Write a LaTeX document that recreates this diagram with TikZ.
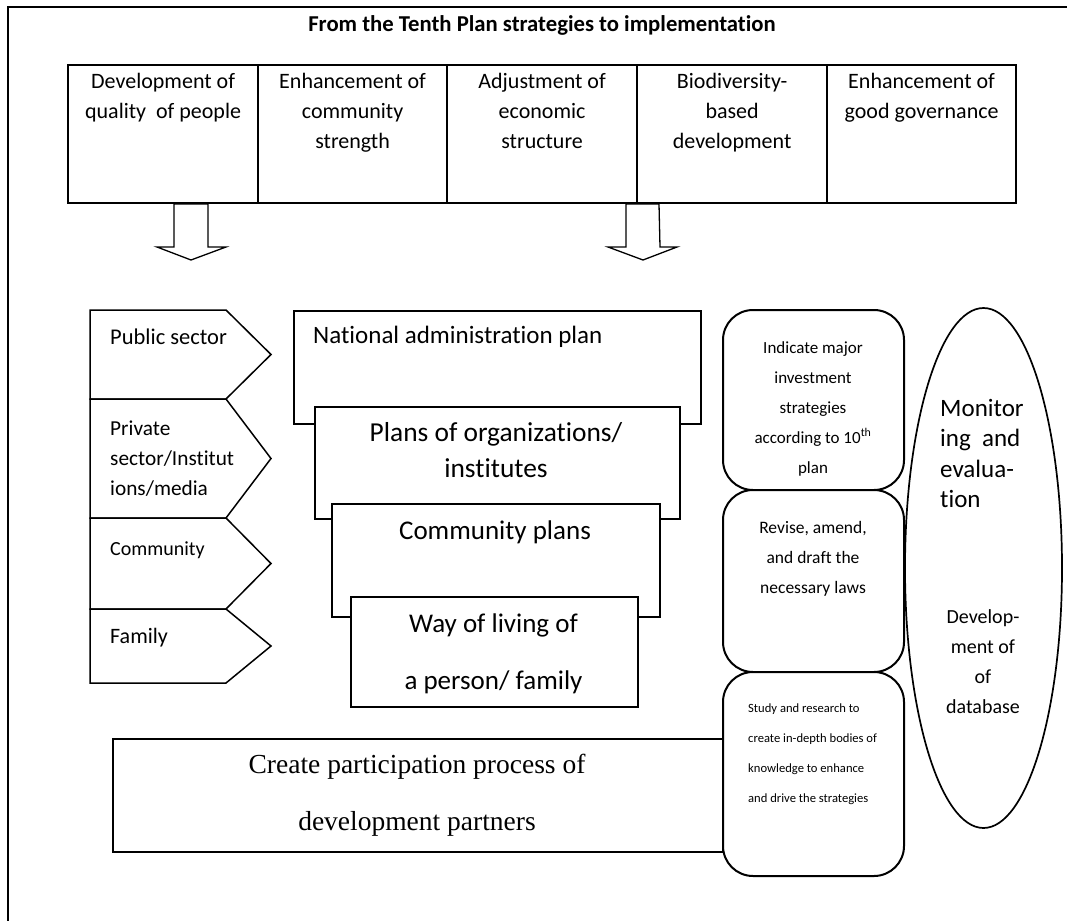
\documentclass[tikz,border=0pt]{standalone}
\usepackage{fontspec}
\setmainfont{Carlito}[Ligatures=NoCommon]
\newfontfamily\tnr{Liberation Serif}
\usetikzlibrary{shapes.geometric,calc}
\newcommand{\fsz}[2]{\fontsize{#1}{#2}\selectfont}
\begin{document}
\begin{tikzpicture}[x=1pt,y=-1pt,
 frame/.style={draw, line width=2pt},
 cell/.style={draw, line width=2.2pt, anchor=north west, minimum height=138pt, inner sep=0pt},
 celltext/.style={anchor=north, inner sep=0pt, align=center, font=\fsz{22}{30}},
 penta/.style={draw, line width=1.5pt, line join=miter},
 pentatext/.style={anchor=north west, inner sep=0pt, align=left},
 planbox/.style={draw, line width=1.5pt, fill=white, anchor=north west, inner sep=0pt},
 blockarrow/.style={draw, line width=1.3pt, fill=white, line join=miter},
 roundbox/.style={draw, line width=2pt, fill=white, rounded corners=30pt, anchor=north west, minimum width=181pt, inner sep=0pt},
 oval/.style={draw, ellipse, line width=1.7pt, minimum width=157pt, minimum height=520pt, inner sep=0pt},
]
\path[use as bounding box] (0,0) rectangle (1067,920);
\clip (0,0) rectangle (1067,920);
\fill[white] (0,0) rectangle (1067,920);
\draw[frame] (7.5,7) rectangle (1090,940);

% title
\node[anchor=base, inner sep=0pt, font=\bfseries\fsz{22.7}{26}] (title) at (542,32) {From the Tenth Plan strategies to implementation};

% strategy table
\node[cell, minimum width=190pt] (c1) at (67,64) {};
\node[cell, minimum width=189pt] (c2) at (257,64) {};
\node[cell, minimum width=190pt] (c3) at (446,64) {};
\node[cell, minimum width=190pt] (c4) at (636,64) {};
\node[cell, minimum width=189pt] (c5) at (826,64) {};
\node[celltext] (t1) at ($(c1.north)+(0,3)$) {\strut Development of\\quality\ \ of people};
\node[celltext] (t2) at ($(c2.north)+(0,3)$) {\strut Enhancement of\\community\\strength};
\node[celltext] (t3) at ($(c3.north)+(0,3)$) {\strut Adjustment of\\economic\\structure};
\node[celltext] (t4) at ($(c4.north)+(0,3)$) {\strut Biodiversity-\\based\\development};
\node[celltext] (t5) at ($(c5.north)+(0,3)$) {\strut Enhancement of\\good governance};

% block arrows
\coordinate (a1) at (191,204);
\coordinate (a2) at (643,204);
\draw[blockarrow] ($(a1)+(-17,0)$) -- ++(0,43) -- ++(-17,0) -- ($(a1)+(0,56)$) -- ($(a1)+(35,43)$) -- ++(-18,0) -- ($(a1)+(17,0)$) -- cycle;
\draw[blockarrow] ($(a2)+(-17,0)$) -- ++(0,43) -- ++(-18,0) -- ($(a2)+(0,56)$) -- ($(a2)+(34,43)$) -- ++(-17,0) -- ($(a2)+(16,0)$) -- cycle;

% sector pentagons
\draw[penta] (90,310) -- (226,310) -- (271,354.5) -- (226,399) -- (90,399) -- cycle;
\draw[penta] (90,399) -- (226,399) -- (271,458.5) -- (226,518) -- (90,518) -- cycle;
\draw[penta] (90,518) -- (226,518) -- (271,563.5) -- (226,609) -- (90,609) -- cycle;
\draw[penta] (90,609) -- (226,609) -- (271,646) -- (226,683) -- (90,683) -- cycle;
\node[pentatext, font=\fsz{22.5}{30}] (s1) at (110,323) {\strut Public sector};
\node[pentatext, font=\fsz{21.3}{30}] (s2) at (110,414) {\strut Private\\sector/Institut\\ions/media};
\node[pentatext, font=\fsz{20}{30}] (s3) at (110,534) {\strut Community};
\node[pentatext, font=\fsz{22}{30}] (s4) at (110,622) {\strut Family};

% nested plans
\node[planbox, minimum width=407pt, minimum height=113pt] (p1) at (293,310) {};
\node[planbox, minimum width=365pt, minimum height=112pt] (p2) at (314,406) {};
\node[planbox, minimum width=328pt, minimum height=113pt] (p3) at (331,503) {};
\node[planbox, minimum width=287pt, minimum height=110pt] (p4) at (350,596) {};
\node[anchor=base west, inner sep=0pt, font=\fsz{25}{30}] (pt1) at (313,343) {National administration plan};
\node[anchor=north, inner sep=0pt, align=center, font=\fsz{27.4}{36}] (pt2) at (496,415.8) {\strut Plans of organizations/\\institutes};
\node[anchor=base, inner sep=0pt, font=\fsz{27}{36}] (pt3) at (495,539) {Community plans};
\node[anchor=north, inner sep=0pt, align=center, font=\fsz{27}{57}] (pt4) at (493.5,592.1) {\strut Way of living of\\a person/ family};

% participation box
\node[planbox, minimum width=610pt, minimum height=113pt] (cp) at (112,738) {};
\node[anchor=north, inner sep=0pt, align=center, font=\tnr\fsz{27.5}{57}] (cpt) at (417,733.1) {\strut Create participation process of\\development partners};

% rounded boxes
\node[roundbox, minimum height=180pt] (r1) at (722,309) {};
\node[roundbox, minimum height=182pt] (r2) at (722,489) {};
\node[roundbox, minimum height=204pt] (r3) at (722,671) {};
\node[anchor=north, inner sep=0pt, align=center, font=\fsz{17}{30}] (rt1) at (813,332) {\strut Indicate major\\investment\\strategies\\according to 10\textsuperscript{th}\\plan};
\node[anchor=north, inner sep=0pt, align=center, font=\fsz{17.5}{30}] (rt2) at (813,512) {\strut Revise, amend,\\and draft the\\necessary laws};
\node[anchor=north west, inner sep=0pt, align=left, font=\fsz{12.6}{30}] (rt3) at (748,691) {\strut Study and research to\\create in-depth bodies of\\knowledge to enhance\\and drive the strategies};

% monitoring ellipse
\node[oval] (me) at (983.5,568) {};
\node[anchor=north west, inner sep=0pt, align=left, font=\fsz{25}{30.5}] (mt1) at (940,394.65) {\strut Monitor\\ing\ \ and\\evalua-\\tion};
\node[anchor=north, inner sep=0pt, align=center, font=\fsz{20}{30}] (mt2) at (983,602) {\strut Develop-\\ment of\\of\\database};
\end{tikzpicture}
\end{document}
